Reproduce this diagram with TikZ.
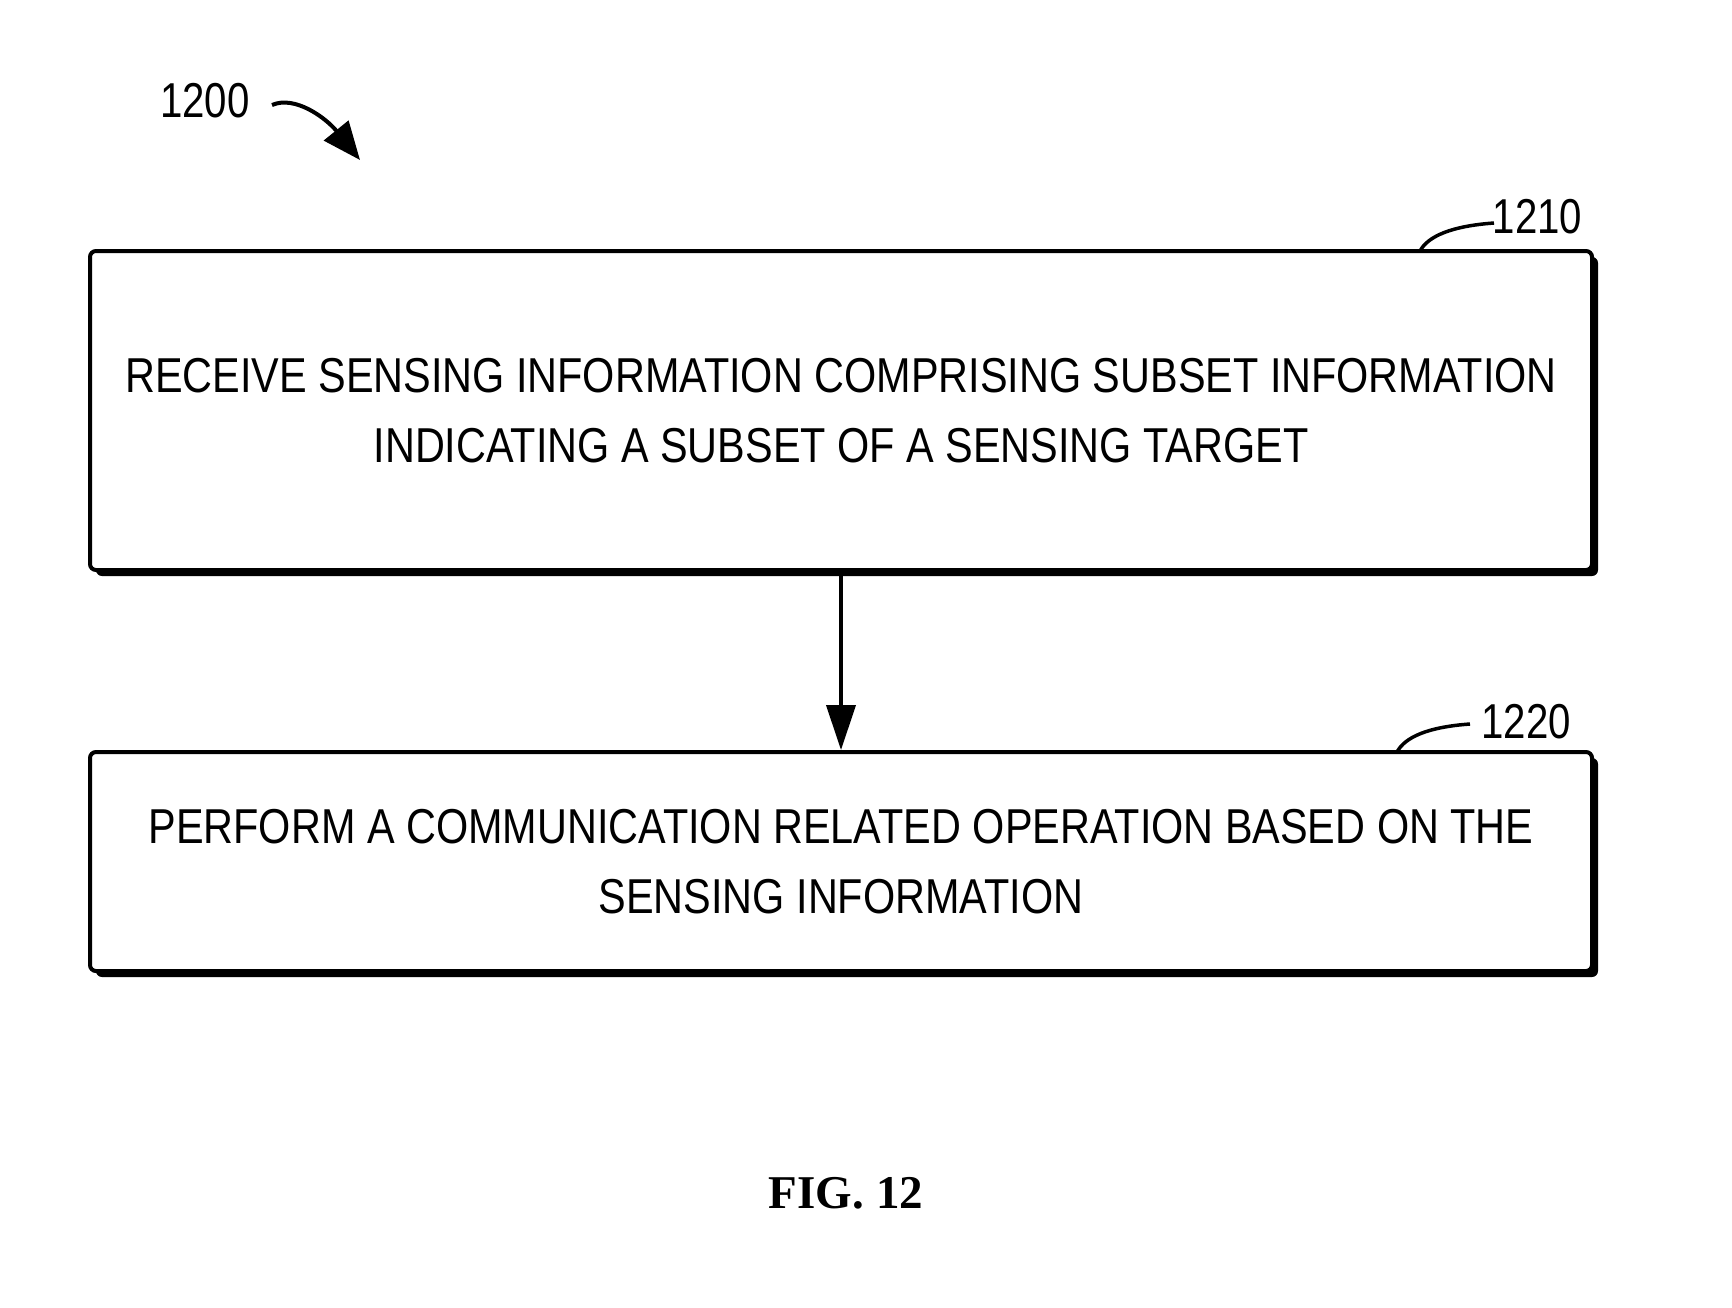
\documentclass[tikz,border=0pt]{standalone}
\usepackage{fontspec}
\setmainfont[FakeStretch=0.845]{Liberation Sans}
\newfontfamily\labfont[FakeStretch=0.82]{Liberation Sans}
\newfontfamily\figfont{Liberation Serif}
\usetikzlibrary{arrows.meta,shadows}
\begin{document}
\begin{tikzpicture}[x=1pt,y=-1pt,
  stepbox/.style={draw, line width=4pt, fill=white, rounded corners=6pt, inner sep=0pt,
    align=center, font=\fontsize{49}{70}\selectfont,
    drop shadow={shadow xshift=6pt, shadow yshift=-6pt, fill=black, opacity=1}},
  reflabel/.style={anchor=base, inner sep=0pt, font=\labfont\fontsize{49}{58}\selectfont},
  lead/.style={line width=3.5pt},
  conn/.style={line width=4pt, -{Triangle[length=45pt,width=29pt]}}]
\useasboundingbox (0,0) rectangle (1732,1307);

\node[stepbox, minimum width=1502pt, minimum height=319pt] (b1) at (841,410.5)
  {RECEIVE SENSING INFORMATION COMPRISING SUBSET INFORMATION\\INDICATING A SUBSET OF A SENSING TARGET};
\node[stepbox, minimum width=1502pt, minimum height=219pt] (b2) at (841,861.5)
  {PERFORM A COMMUNICATION RELATED OPERATION BASED ON THE\\SENSING INFORMATION};

\draw[conn] (b1.south) -- (b2.north);

% 1200
\node[reflabel] (l1200) at (205,117) {1200};
\coordinate (a0) at (272,105);
\coordinate (a1) at (360,160);
\draw[line width=4pt, -{Triangle[length=38pt,width=31pt]}] (a0) .. controls (295,95) and (326,118) .. (a1);

% 1210
\node[reflabel] (l1210) at (1537.5,233) {1210};
\coordinate (c1) at (1420,251);
\coordinate (c1e) at (1494,223);
\draw[lead] (c1) .. controls (1428,236) and (1452,226) .. (c1e);

% 1220
\node[reflabel] (l1220) at (1526,738) {1220};
\coordinate (c2) at (1397,752);
\coordinate (c2e) at (1470,724);
\draw[lead] (c2) .. controls (1405,737) and (1428,727) .. (c2e);

\node[anchor=base, inner sep=0pt, font=\figfont\bfseries\fontsize{47}{56}\selectfont] (fig) at (846,1208) {FIG. 12};
\end{tikzpicture}
\end{document}
